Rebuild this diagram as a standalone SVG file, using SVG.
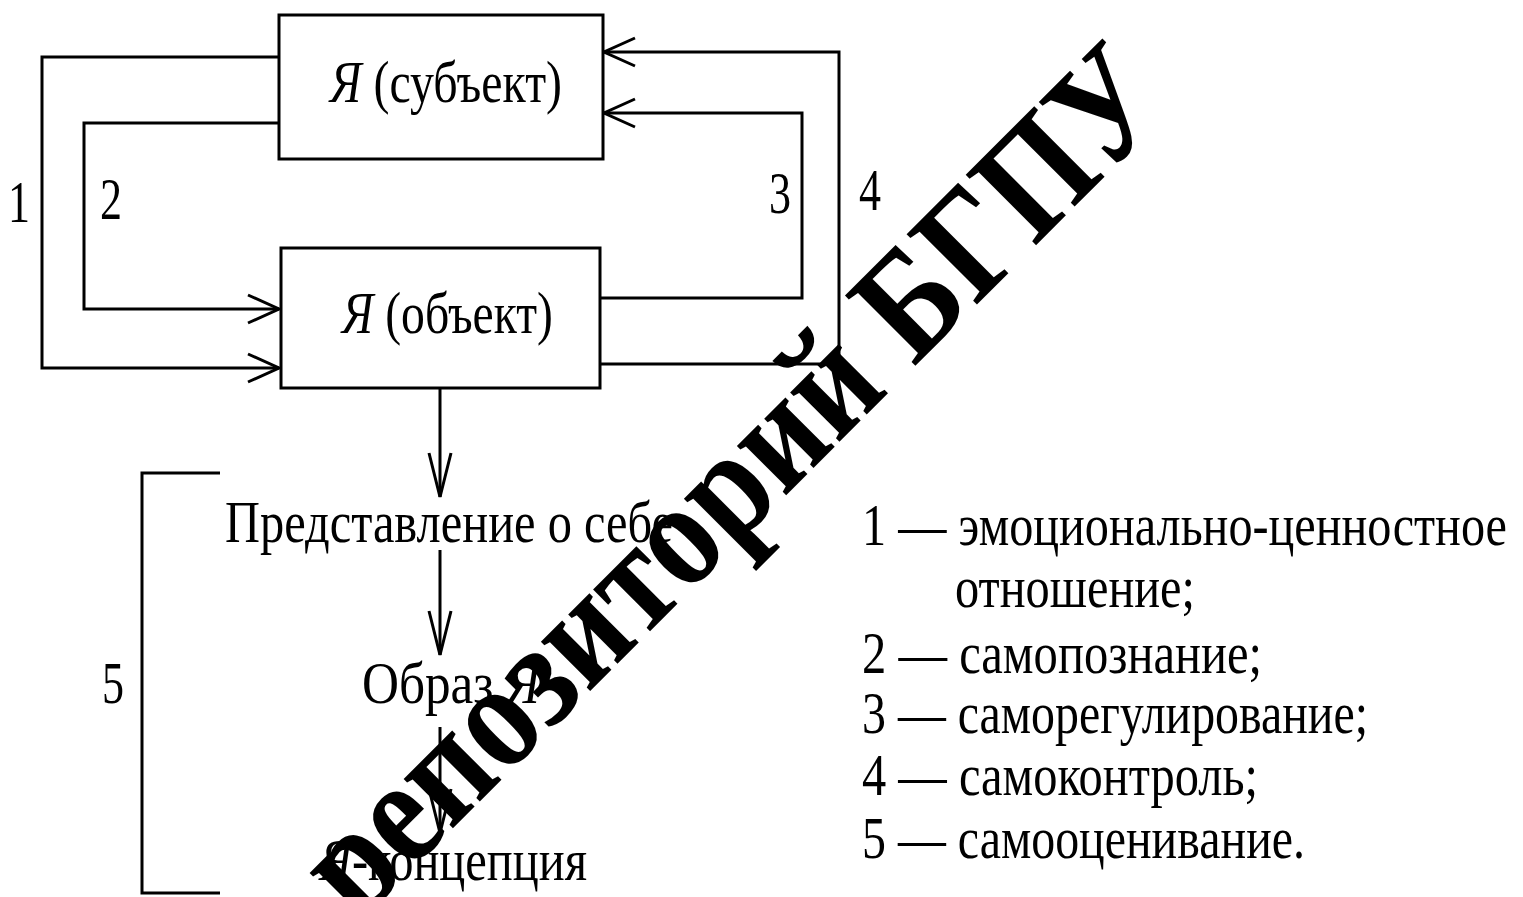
<svg xmlns="http://www.w3.org/2000/svg" width="1523" height="897" viewBox="0 0 1523 897">
  <style>
    .box { fill: #fff; stroke: #000; stroke-width: 3; }
    .ln { fill: none; stroke: #000; stroke-width: 3; }
    .t { font-family: "Liberation Serif", "Times New Roman", serif; font-size: 60px; fill: #000; }
    .it { font-style: italic; }
    .wm { font-family: "Liberation Serif", "Times New Roman", serif; font-weight: bold; font-size: 152px; fill: #000; }
  </style>
  <defs>
    <marker id="arrH" viewBox="-34 -17 36 34" markerWidth="36" markerHeight="34" refX="0" refY="0" orient="auto" markerUnits="userSpaceOnUse">
      <path d="M -31 -14 L 0 0 L -31 14" fill="none" stroke="#000" stroke-width="3"/>
    </marker>
    <marker id="arrV" viewBox="-46 -14 48 28" markerWidth="48" markerHeight="28" refX="0" refY="0" orient="auto" markerUnits="userSpaceOnUse">
      <path d="M -44 -11 L 0 0 L -44 11" fill="none" stroke="#000" stroke-width="3"/>
    </marker>
  </defs>
  <rect width="1523" height="897" fill="#fff"/>

  <g id="connectors">
    <path id="c1" class="ln" d="M 279 57 H 42 V 368 H 279" marker-end="url(#arrH)"/>
    <path id="c2" class="ln" d="M 279 123 H 84 V 309 H 279" marker-end="url(#arrH)"/>
    <path id="c3" class="ln" d="M 600 298 H 802 V 113 H 604" marker-end="url(#arrH)"/>
    <path id="c4" class="ln" d="M 600 364 H 839 V 52 H 604" marker-end="url(#arrH)"/>
    <path id="c5" class="ln" d="M 440 388 V 497" marker-end="url(#arrV)"/>
    <path id="c6" class="ln" d="M 440 550 V 655" marker-end="url(#arrV)"/>
    <path id="c7" class="ln" d="M 440 727 V 833" marker-end="url(#arrV)"/>
    <path id="bracket5" class="ln" d="M 220 473 H 142 V 893 H 220"/>
  </g>

  <g id="subject">
    <rect class="box" x="279" y="15" width="324" height="144"/>
    <text class="t" x="330" y="102" textLength="232" lengthAdjust="spacingAndGlyphs"><tspan class="it">Я</tspan> (субъект)</text>
  </g>
  <g id="object">
    <rect class="box" x="281" y="248" width="319" height="140"/>
    <text class="t" x="342" y="333" textLength="211" lengthAdjust="spacingAndGlyphs"><tspan class="it">Я</tspan> (объект)</text>
  </g>
  <g id="self-representation">
    <text class="t" x="225" y="542" textLength="448" lengthAdjust="spacingAndGlyphs">Представление о себе</text>
  </g>
  <g id="self-image">
    <text class="t" x="362" y="703" textLength="178" lengthAdjust="spacingAndGlyphs">Образ <tspan class="it">Я</tspan></text>
  </g>
  <g id="self-concept">
    <text class="t" x="320" y="880" textLength="267" lengthAdjust="spacingAndGlyphs"><tspan class="it">Я</tspan>-концепция</text>
  </g>

  <g id="labels">
    <text class="t" x="8" y="222" textLength="22" lengthAdjust="spacingAndGlyphs">1</text>
    <text class="t" x="100" y="219" textLength="22" lengthAdjust="spacingAndGlyphs">2</text>
    <text class="t" x="769" y="213" textLength="22" lengthAdjust="spacingAndGlyphs">3</text>
    <text class="t" x="859" y="210" textLength="22" lengthAdjust="spacingAndGlyphs">4</text>
    <text class="t" x="102" y="703" textLength="22" lengthAdjust="spacingAndGlyphs">5</text>
  </g>

  <g id="legend">
    <text class="t" x="862" y="545" textLength="645" lengthAdjust="spacingAndGlyphs">1 — эмоционально-ценностное</text>
    <text class="t" x="955" y="607" textLength="240" lengthAdjust="spacingAndGlyphs">отношение;</text>
    <text class="t" x="862" y="673" textLength="400" lengthAdjust="spacingAndGlyphs">2 — самопознание;</text>
    <text class="t" x="862" y="733" textLength="506" lengthAdjust="spacingAndGlyphs">3 — саморегулирование;</text>
    <text class="t" x="862" y="795" textLength="396" lengthAdjust="spacingAndGlyphs">4 — самоконтроль;</text>
    <text class="t" x="862" y="858" textLength="443" lengthAdjust="spacingAndGlyphs">5 — самооценивание.</text>
  </g>

  <g id="watermark">
    <text class="wm" transform="rotate(-45)" x="-400" y="906" textLength="1155" lengthAdjust="spacingAndGlyphs">репозиторий БГПУ</text>
  </g>
</svg>
